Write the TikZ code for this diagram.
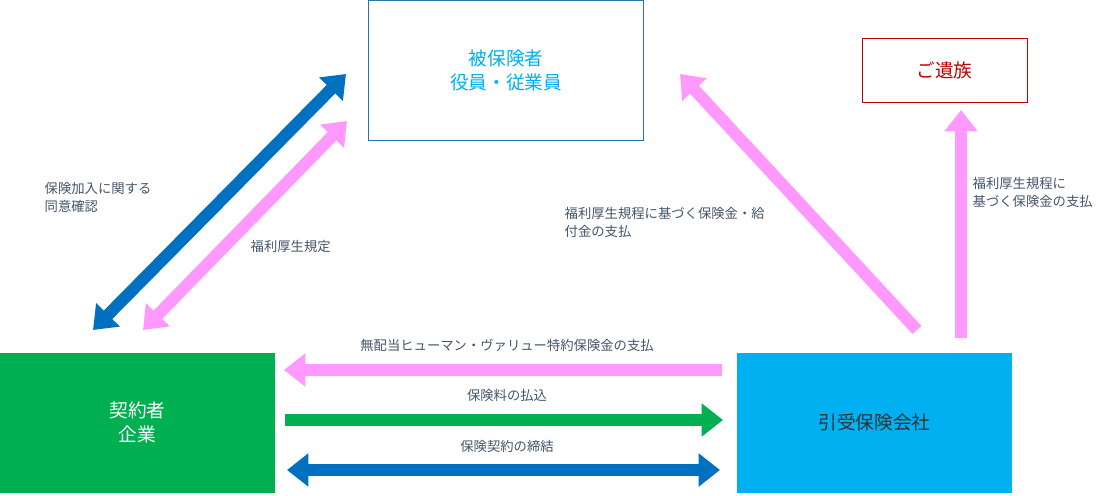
\documentclass[tikz,border=0pt]{standalone}
\usepackage{fontspec}
\setmainfont{Noto Sans CJK JP}
\usetikzlibrary{arrows.meta}
\definecolor{pk}{HTML}{FF99FF}
\definecolor{bl}{HTML}{0070C0}
\definecolor{gr}{HTML}{00B050}
\definecolor{cy}{HTML}{00B0F0}
\definecolor{lb}{HTML}{44546A}
\definecolor{rd}{HTML}{C00000}
\begin{document}
\begin{tikzpicture}[x=0.75pt,y=-0.75pt,
  arr/.style={line width=9pt,-{Triangle[length=16pt,width=24pt]}},
  darr/.style={line width=9pt,{Triangle[length=16pt,width=24pt]}-{Triangle[length=16pt,width=24pt]}},
  lab/.style={text=lb,font=\fontsize{10}{13}\selectfont,align=left},
  bx/.style={minimum width=206pt,minimum height=105pt,font=\fontsize{14}{18}\selectfont,align=center}]
\useasboundingbox (0,0) rectangle (1100,496);
\node[bx,draw=bl!70!gray,fill=white,text=cy] (ins) at (506,70) {被保険者\\役員・従業員};
\node[draw=rd,text=rd,minimum width=124pt,minimum height=48pt,font=\fontsize{14}{18}\selectfont] (fam) at (944.5,70) {ご遺族};
\node[bx,fill=gr,text=white] (co) at (137.5,422.5) {契約者\\企業};
\node[bx,fill=cy,text=black!80] (ic) at (874.5,422.5) {引受保険会社};
\coordinate (a1) at (93,330); \coordinate (a2) at (346,74);
\coordinate (b1) at (143,330); \coordinate (b2) at (347,121);
\coordinate (c1) at (917,330); \coordinate (c2) at (680,74);
\coordinate (d1) at (961,338); \coordinate (d2) at (961,110);
\coordinate (e1) at (722,370); \coordinate (e2) at (284,370);
\coordinate (f1) at (285,420); \coordinate (f2) at (723,420);
\coordinate (g1) at (287,470); \coordinate (g2) at (720,470);
\draw[darr,bl] (a1) -- (a2);
\draw[darr,pk] (b1) -- (b2);
\draw[arr,pk] (c1) -- (c2);
\draw[arr,pk] (d1) -- (d2);
\draw[arr,pk] (e1) -- (e2);
\draw[arr,gr] (f1) -- (f2);
\draw[darr,bl] (g1) -- (g2);
\node[lab,anchor=north west] (l1) at (40,178) {保険加入に関する\\同意確認};
\node[lab,anchor=west] (l2) at (246,246) {福利厚生規定};
\node[lab,anchor=north west] (l3) at (560,203) {福利厚生規程に基づく保険金・給\\付金の支払};
\node[lab,anchor=north west] (l4) at (968,173) {福利厚生規程に\\基づく保険金の支払};
\node[lab,anchor=south] (l5) at (507,356) {無配当ヒューマン・ヴァリュー特約保険金の支払};
\node[lab,anchor=south] (l6) at (507,406) {保険料の払込};
\node[lab,anchor=south] (l7) at (507,457) {保険契約の締結};
\end{tikzpicture}
\end{document}
